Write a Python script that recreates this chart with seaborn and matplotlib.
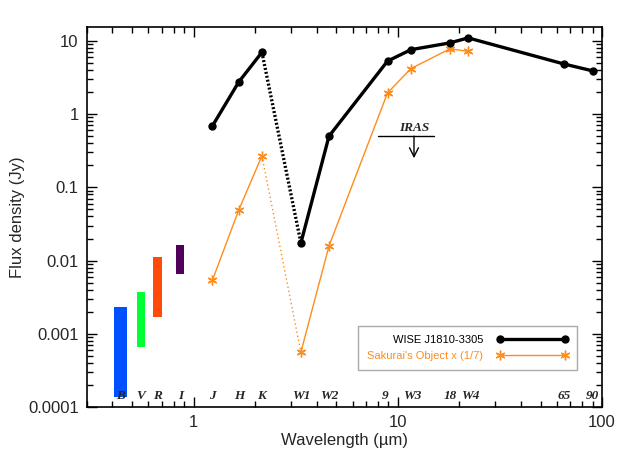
import numpy as np
import pandas as pd
import seaborn as sns
import matplotlib
matplotlib.use("Agg")
import matplotlib.pyplot as plt
from matplotlib.ticker import LogLocator, FuncFormatter, NullFormatter
from matplotlib.lines import Line2D

# ---- data ----
bands = ["J", "H", "K", "W1", "W2", "9", "W3", "18", "W4", "65", "90"]
wave = [1.235, 1.662, 2.159, 3.35, 4.6, 8.9, 11.6, 18.0, 22.1, 65.0, 90.0]
wise_flux = [0.69, 2.75, 7.0, 0.0174, 0.50, 5.3, 7.6, 9.4, 11.0, 4.85, 3.9]
sak_wave = [1.235, 1.662, 2.159, 3.35, 4.6, 8.9, 11.6, 18.0, 22.1]
sak_flux = [0.0054, 0.049, 0.27, 0.00056, 0.0158, 1.95, 4.2, 7.8, 7.2]

opt_bands = ["B", "V", "R", "I"]
opt_wave = [0.44, 0.55, 0.665, 0.86]
opt_low = [0.000137, 0.00066, 0.0017, 0.0066]
opt_high = [0.00232, 0.0037, 0.0112, 0.0163]
opt_colors = ["#0050ff", "#00ff33", "#ff4a0a", "#50005a"]
opt_width_dex = [0.064, 0.04, 0.04, 0.04]

label_bands = ["B", "V", "R", "I", "J", "H", "K", "W1", "W2", "9", "W3", "18", "W4", "65", "90"]
label_wave = [0.44, 0.55, 0.665, 0.86, 1.235, 1.662, 2.159, 3.35, 4.6, 8.7, 11.8, 18.0, 22.6, 65.0, 90.0]

iras_wave = 12.0
iras_limit = 0.5
iras_span = (8.0, 15.0)

sns.set_style("ticks")
plt.rcParams["font.family"] = ["Liberation Sans", "DejaVu Sans"]

fig = plt.figure(figsize=(6.29, 4.63), dpi=100)
ax = fig.add_axes([0.1383, 0.121, 0.8187, 0.8207])
ax.set_xscale("log")
ax.set_yscale("log")

black = "#000000"
orange = "#ff8c1a"

# optical bars
for w, lo, hi, c, d in zip(opt_wave, opt_low, opt_high, opt_colors, opt_width_dex):
    left = w * 10 ** (-d / 2)
    right = w * 10 ** (d / 2)
    ax.bar(left, hi - lo, bottom=lo, width=right - left, align="edge",
           color=c, edgecolor="none", zorder=2)

df_w = pd.DataFrame({"wave": wave, "flux": wise_flux})
df_s = pd.DataFrame({"wave": sak_wave, "flux": sak_flux})

# Sakurai's object
sns.lineplot(data=df_s.iloc[0:3], x="wave", y="flux", ax=ax, color=orange,
             lw=1.0, sort=False, estimator=None, zorder=3)
sns.lineplot(data=df_s.iloc[3:], x="wave", y="flux", ax=ax, color=orange,
             lw=1.0, sort=False, estimator=None, zorder=3)
ax.plot(df_s["wave"].iloc[2:4], df_s["flux"].iloc[2:4], color=orange, lw=1.0,
        ls=(0, (1, 2)), zorder=3)
ax.plot(df_s["wave"], df_s["flux"], ls="none", marker=(6, 2, 0), ms=7,
        mew=1.0, color=orange, zorder=4)

# WISE source
sns.lineplot(data=df_w.iloc[0:3], x="wave", y="flux", ax=ax, color=black,
             lw=2.4, sort=False, estimator=None, zorder=5)
sns.lineplot(data=df_w.iloc[3:], x="wave", y="flux", ax=ax, color=black,
             lw=2.4, sort=False, estimator=None, zorder=5)
ax.plot(df_w["wave"].iloc[2:4], df_w["flux"].iloc[2:4], color=black, lw=2.4,
        ls=(0, (0.6, 0.6)), zorder=5)
ax.plot(df_w["wave"], df_w["flux"], ls="none", marker="o", ms=5,
        color=black, zorder=6)

# IRAS upper limit
ax.plot(list(iras_span), [iras_limit, iras_limit], color=black, lw=1.0, zorder=5)
ax.annotate("", xy=(iras_wave, iras_limit * 0.5), xytext=(iras_wave, iras_limit),
            arrowprops=dict(arrowstyle="->", lw=1.0, color=black,
                            shrinkA=0, shrinkB=0, mutation_scale=16))
ax.annotate("IRAS", xy=(iras_wave, iras_limit), xytext=(0, 1.5),
            textcoords="offset points", ha="center", va="bottom",
            fontsize=9.5, fontweight="bold", fontstyle="italic",
            family=["Liberation Serif", "DejaVu Serif"])

# band labels
for b, w in zip(label_bands, label_wave):
    ax.text(w, 0.028, b, transform=ax.get_xaxis_transform(), ha="center",
            va="center", fontsize=9.5, fontweight="bold", fontstyle="italic",
            family=["Liberation Serif", "DejaVu Serif"], zorder=7)

ax.set_xlim(0.3, 100)
ax.set_ylim(1e-4, 15.5)

fmt = FuncFormatter(lambda v, p: f"{v:g}")
ax.xaxis.set_major_locator(LogLocator(base=10, numticks=10))
ax.xaxis.set_minor_locator(LogLocator(base=10, subs=np.arange(2, 10), numticks=100))
ax.yaxis.set_major_locator(LogLocator(base=10, numticks=10))
ax.yaxis.set_minor_locator(LogLocator(base=10, subs=np.arange(2, 10), numticks=100))
ax.xaxis.set_major_formatter(fmt)
ax.yaxis.set_major_formatter(fmt)
ax.xaxis.set_minor_formatter(NullFormatter())
ax.yaxis.set_minor_formatter(NullFormatter())

ax.tick_params(which="both", direction="in", top=True, right=True,
               color=black, width=1.0)
ax.tick_params(which="major", length=7, labelsize=12, pad=6)
ax.tick_params(which="minor", length=4)
for s in ax.spines.values():
    s.set_linewidth(1.2)
    s.set_color(black)
    s.set_visible(True)

ax.set_xlabel("Wavelength (\u00b5m)", fontsize=12, labelpad=2)
ax.set_ylabel("Flux density (Jy)", fontsize=12, labelpad=2)

handles = [
    Line2D([], [], color=black, lw=2.4, marker="o", ms=5),
    Line2D([], [], color=orange, lw=1.0, marker=(6, 2, 0), ms=7, mew=1.0),
]
leg = ax.legend(handles, ["WISE J1810-3305", "Sakurai's Object x (1/7)"],
                loc="lower right", bbox_to_anchor=(0.963, 0.084),
                markerfirst=False, fontsize=8, handlelength=6.5, numpoints=2,
                labelcolor=[black, orange], frameon=True, fancybox=False,
                edgecolor="#aaaaaa", framealpha=1, borderpad=0.8,
                labelspacing=0.5, handletextpad=1.2)
leg.get_frame().set_linewidth(1.0)

fig.savefig("out.png", dpi=100)
